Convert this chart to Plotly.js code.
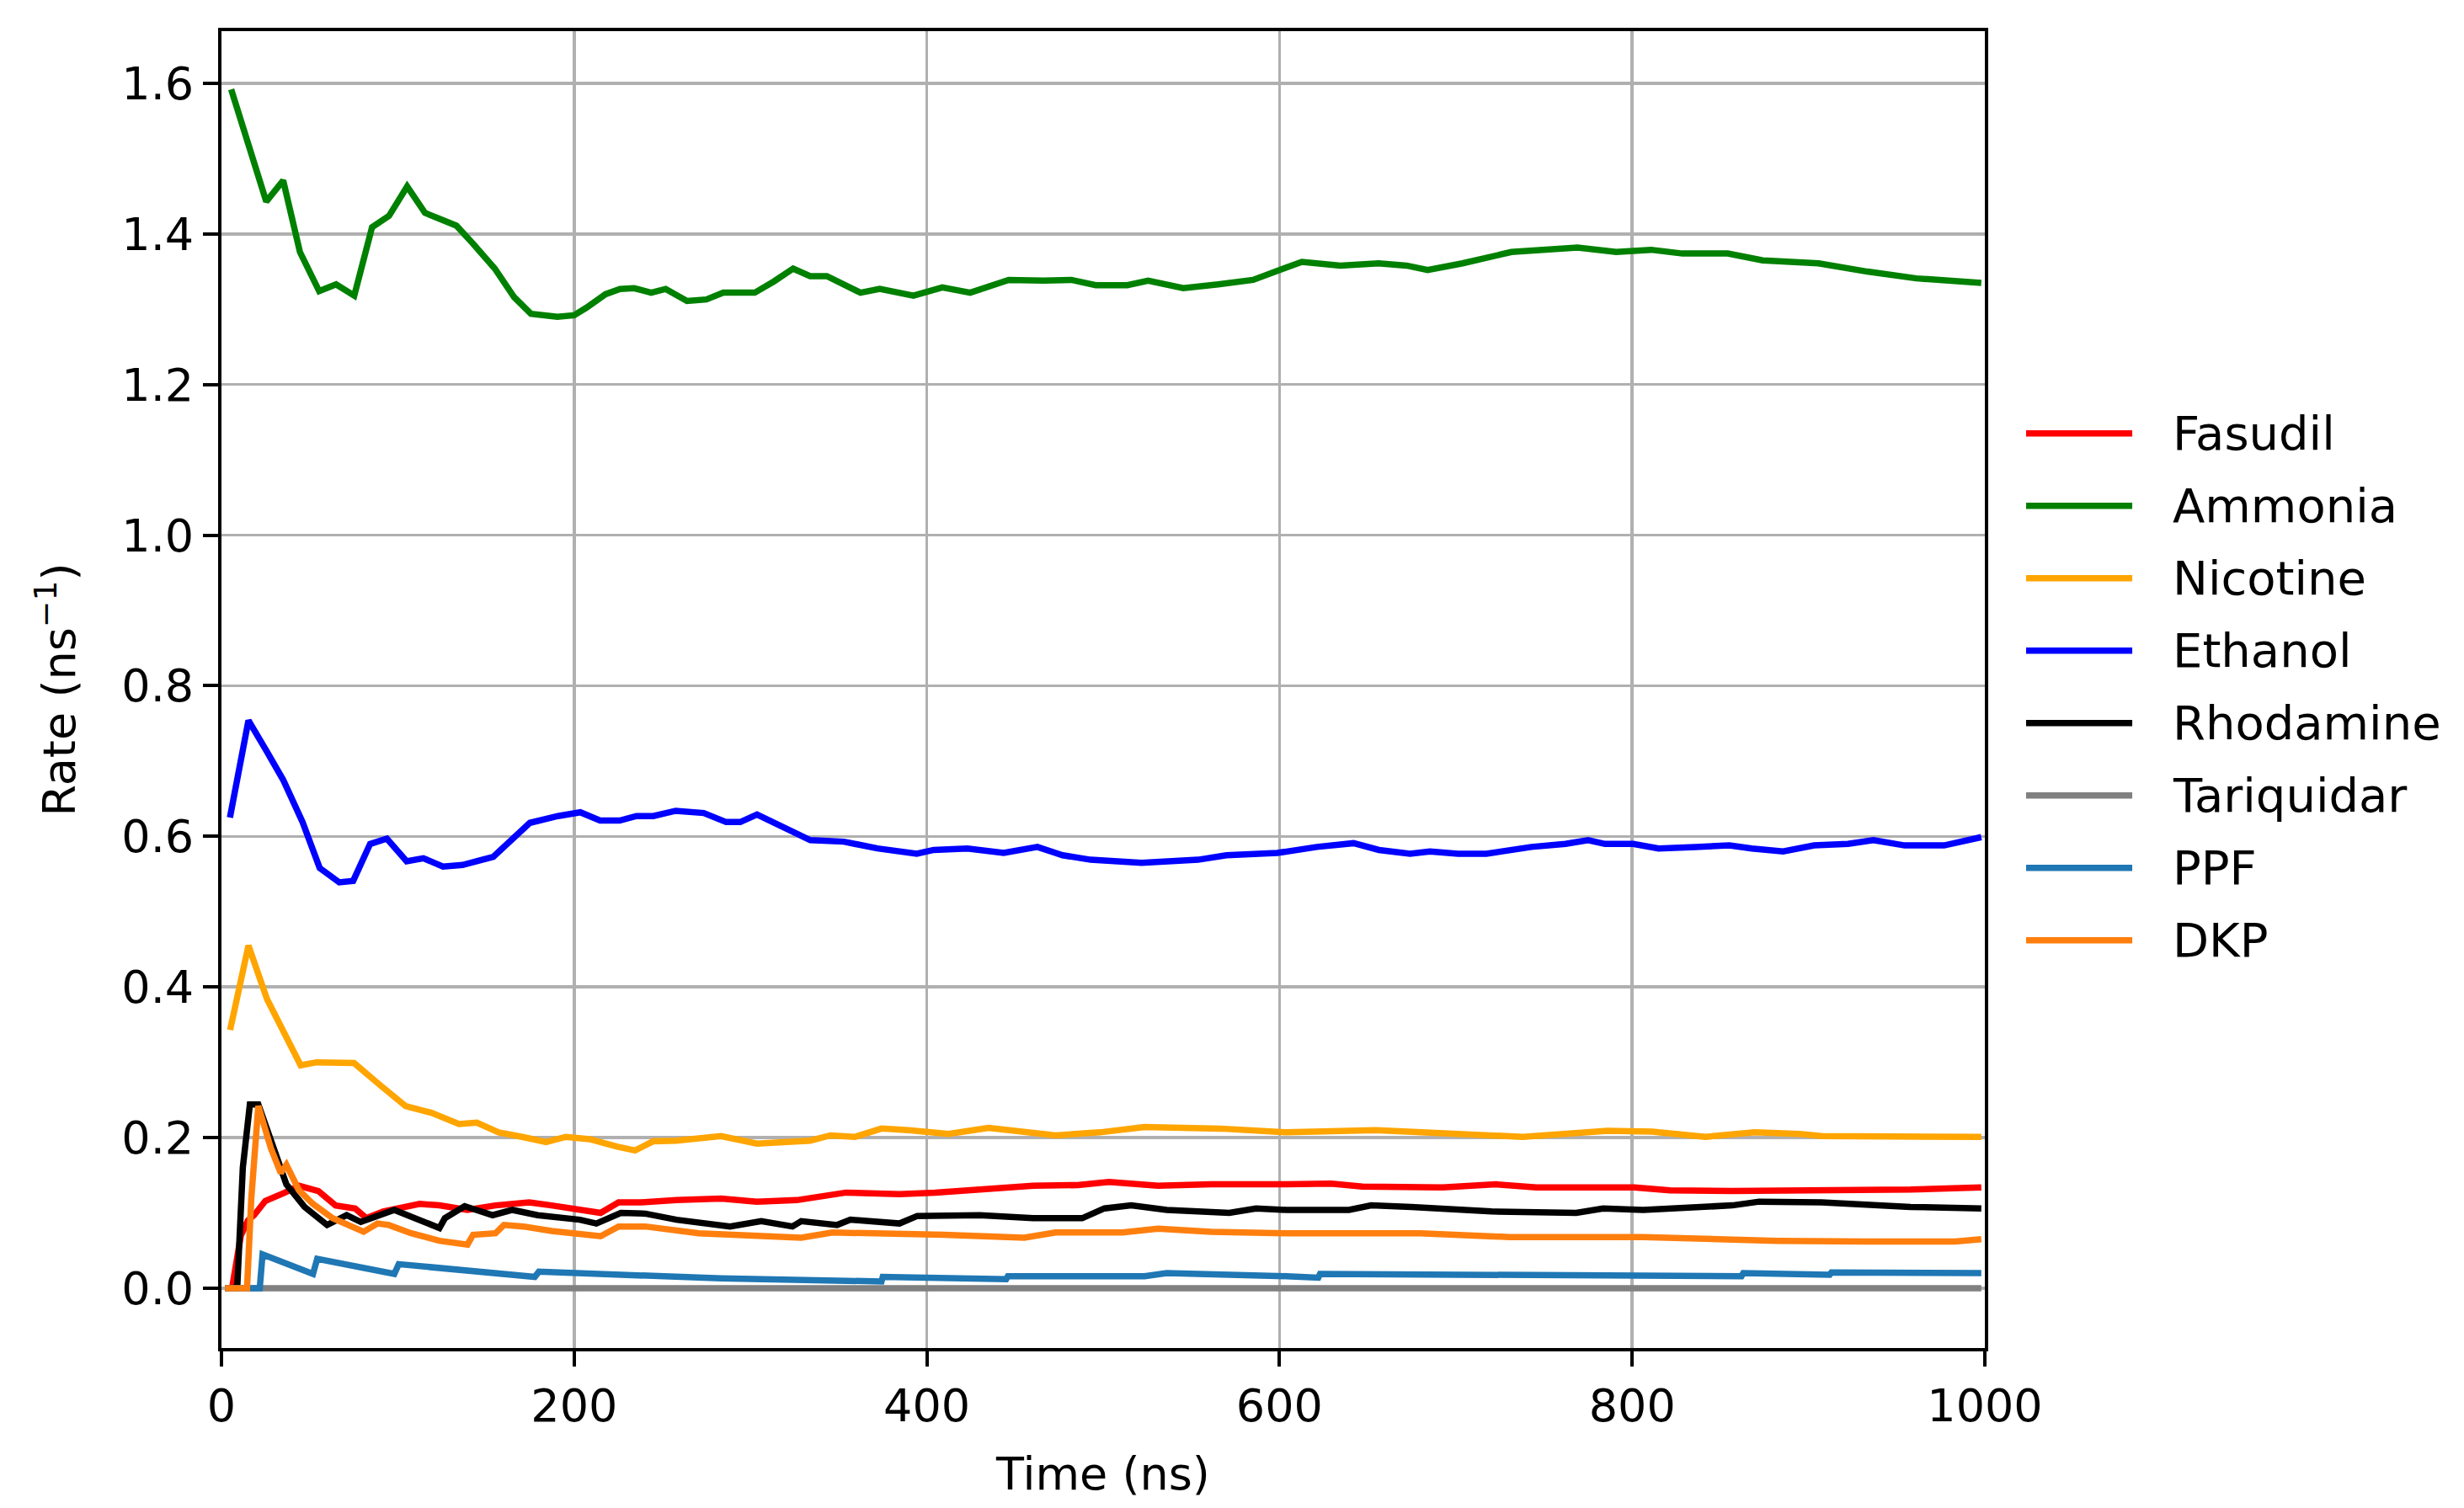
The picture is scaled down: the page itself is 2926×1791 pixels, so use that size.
<!DOCTYPE html>
<html>
<head>
<meta charset="utf-8">
<script src="https://cdn.plot.ly/plotly-3.0.1.min.js"></script>
<style>html,body{margin:0;padding:0;background:#fff;}#chart{width:2926px;height:1791px;}</style>
</head>
<body>
<div id="chart"></div>
<script>
// ---- data ----
const seriesNames = ["Fasudil","Ammonia","Nicotine","Ethanol","Rhodamine","Tariquidar","PPF","DKP"];
const seriesColors = ["#ff0000","#008000","#ffa500","#0000ff","#000000","#808080","#1f77b4","#ff7f0e"];

const tFasudil = [2,6,11,15,18.5,24.9,36,44,55,64.7,75.8,82.2,91.7,112.4,123.6,139.5,155.4,174.5,187.2,207.5,215,225.2,237.8,258,283.3,303.6,326.3,354.1,384.5,404.7,435,460.3,485.6,503.3,531.1,561.4,604,629.3,647,692.5,722.8,745.6,801.2,821.4,856.8,907.4,957.9,998];
const vFasudil = [0,0,0.07,0.09,0.097,0.116,0.127,0.136,0.129,0.110,0.106,0.093,0.102,0.112,0.110,0.104,0.110,0.114,0.110,0.102,0.100,0.114,0.114,0.117,0.119,0.115,0.117,0.127,0.125,0.127,0.132,0.136,0.137,0.141,0.136,0.138,0.138,0.139,0.135,0.134,0.138,0.134,0.134,0.130,0.129,0.130,0.131,0.134];

const tAmmonia = [5.5,25.4,35,44.5,55.4,65,75.3,85.4,95,105.3,115.4,133.2,142.7,155,166,175.5,190.5,200,206.9,217.8,226,234,243.7,251.9,264,275,284.6,302.4,313.3,324.2,333.8,343.3,362.4,373.3,392.4,408.8,424.6,446.4,466.2,482,495.8,513.7,525.5,545.4,565.2,585,612.7,634.5,656.2,672,684,703.8,731.5,755.2,769,790.9,810.7,828.5,854.2,874,905.7,933.4,961.2,998];
const vAmmonia = [1.592,1.443,1.471,1.376,1.324,1.333,1.318,1.409,1.424,1.463,1.428,1.411,1.387,1.354,1.316,1.294,1.290,1.292,1.302,1.320,1.327,1.328,1.322,1.327,1.311,1.313,1.322,1.322,1.337,1.354,1.344,1.344,1.322,1.327,1.318,1.329,1.322,1.339,1.338,1.339,1.332,1.332,1.338,1.328,1.333,1.339,1.363,1.358,1.361,1.358,1.352,1.361,1.376,1.381,1.382,1.376,1.379,1.374,1.374,1.365,1.361,1.350,1.341,1.335];

const tNicotine = [4.9,15.3,25.8,34.8,44.9,53.9,75.2,89.8,104.4,119,134.7,144.8,157.2,170.6,184.1,195.3,208.8,224.5,234.6,244.7,258,283.3,303.6,333.9,345.3,359.2,374.3,389.5,412.3,435,450.2,473,498.2,523.5,566.5,604,654.6,705,738,786,811.3,841.6,869.4,894.7,907.4,998];
const vNicotine = [0.343,0.455,0.384,0.343,0.296,0.300,0.299,0.270,0.242,0.233,0.218,0.220,0.207,0.201,0.194,0.201,0.198,0.188,0.183,0.195,0.196,0.202,0.192,0.196,0.203,0.201,0.212,0.210,0.205,0.213,0.209,0.203,0.207,0.214,0.212,0.207,0.210,0.205,0.201,0.209,0.208,0.201,0.207,0.205,0.202,0.201];

const tEthanol = [4.8,15.3,25.4,35,46,55.7,66.8,74.7,84.3,93.8,105,114.5,125.6,136.7,154.2,165.4,174.9,190.8,203.5,214.7,225.8,235.3,244.9,257.6,273.5,286.2,294.2,303.7,318,333.9,353,372,394.3,403.9,423,443.6,462.7,477,492.9,521.8,553.8,569.9,598.7,621.2,642,656.4,674,685.3,701.3,717.3,742.9,762.2,775,784.6,800.6,815,835.9,855.1,867.9,885.6,903.2,922.4,936.8,954.5,976.9,998];
const vEthanol = [0.625,0.754,0.714,0.675,0.619,0.558,0.539,0.541,0.590,0.597,0.567,0.571,0.560,0.562,0.573,0.597,0.618,0.627,0.632,0.621,0.621,0.627,0.627,0.634,0.631,0.619,0.619,0.629,0.612,0.595,0.593,0.584,0.577,0.582,0.584,0.578,0.586,0.575,0.569,0.565,0.569,0.575,0.578,0.586,0.591,0.582,0.577,0.580,0.577,0.577,0.586,0.590,0.595,0.590,0.590,0.584,0.586,0.588,0.584,0.580,0.588,0.590,0.595,0.588,0.588,0.599];

const tRhodamine = [2,7,9,12.1,16.1,20.9,36.8,47.1,59.9,71,79,98,123.6,126.7,137.9,153.8,165,179.3,203.2,212.6,226.5,240.4,258,288.4,306.1,323.8,328.8,349.1,356.7,384.5,394.6,430,460.3,488.1,500.7,515.9,536.1,571.5,586.7,604,639.4,652,674.8,720.3,768.3,783.5,806.2,856.8,872,907.4,957.9,998];
const vRhodamine = [0,0,0.004,0.160,0.244,0.244,0.138,0.108,0.084,0.097,0.088,0.104,0.080,0.093,0.109,0.097,0.104,0.097,0.091,0.086,0.100,0.099,0.091,0.082,0.089,0.082,0.089,0.084,0.091,0.086,0.096,0.097,0.093,0.093,0.106,0.110,0.104,0.100,0.106,0.104,0.104,0.110,0.108,0.102,0.100,0.106,0.104,0.110,0.115,0.114,0.108,0.106];

const tTariquidar = [2,250,500,750,998];
const vTariquidar = [0,0,0,0,0];

const tPPF = [2,21.7,23.3,51.9,54.3,98,100.5,177.7,180,207.5,232.8,283.3,374.3,375,445,446,523.5,536,604,622,623,862,863,912,913,998];
const vPPF = [0,0,0.045,0.019,0.039,0.019,0.032,0.015,0.022,0.020,0.017,0.013,0.009,0.015,0.012,0.016,0.016,0.020,0.016,0.014,0.019,0.016,0.020,0.018,0.021,0.020];

const tDKP = [2,14.5,16.9,20.9,28,33.6,36.8,44,51.9,63,80.6,88.5,94.9,107.6,123.6,139.5,142.7,155.4,160.2,171.3,187.2,207.5,215,225.2,240.4,270.7,290.9,328.8,346.5,384.5,409.7,455.2,473,510.9,531.1,561.4,604,679.8,730.4,806.2,882,932.6,983.2,998];
const vDKP = [0,0,0.119,0.242,0.186,0.153,0.164,0.130,0.112,0.093,0.075,0.086,0.084,0.073,0.063,0.058,0.071,0.073,0.084,0.082,0.076,0.071,0.069,0.082,0.082,0.073,0.071,0.067,0.074,0.073,0.071,0.067,0.074,0.074,0.079,0.075,0.073,0.073,0.068,0.068,0.063,0.062,0.062,0.065];

const xTickVals = [0,200,400,600,800,1000];
const yTickVals = [0.0,0.2,0.4,0.6,0.8,1.0,1.2,1.4,1.6];
const xTitle = "Time (ns)";
const yTitle = "Rate (ns<sup>−1</sup>)";

// ---- build traces ----
const xs = [tFasudil,tAmmonia,tNicotine,tEthanol,tRhodamine,tTariquidar,tPPF,tDKP];
const ys = [vFasudil,vAmmonia,vNicotine,vEthanol,vRhodamine,vTariquidar,vPPF,vDKP];
const FONT = "DejaVu Sans, Liberation Sans, sans-serif";
const LW = 7.5;

const traces = seriesNames.map((n,i)=>({
  type:"scatter", mode:"lines", name:n, x:xs[i], y:ys[i],
  line:{color:seriesColors[i], width:LW}, showlegend:false
}));

// custom legend (matplotlib-style long handles)
const shapes = [], annotations = [];
const legX0 = 1.0234, legX1 = 1.0836, legTextX = 1.1056, legY0 = 0.6946, legStep = 0.05499;
seriesNames.forEach((n,i)=>{
  const yy = legY0 - i*legStep;
  shapes.push({type:"line", xref:"paper", yref:"paper", x0:legX0, x1:legX1, y0:yy, y1:yy,
               line:{color:seriesColors[i], width:LW}});
  annotations.push({xref:"paper", yref:"paper", x:legTextX, y:yy, xanchor:"left", yanchor:"middle",
               text:n, showarrow:false, font:{family:FONT, size:56, color:"#000"}});
});

const layout = {
  width:2926, height:1791,
  margin:{l:263, r:569, t:37, b:190},
  paper_bgcolor:"#fff", plot_bgcolor:"#fff",
  font:{family:FONT, size:54, color:"#000"},
  showlegend:false,
  xaxis:{
    range:[0,1000], tickvals:xTickVals, ticktext:xTickVals.map(String),
    showgrid:true, gridcolor:"#b0b0b0", gridwidth:3.5,
    showline:true, linecolor:"#000", linewidth:4, mirror:true,
    ticks:"outside", ticklen:18, tickwidth:4, tickcolor:"#000",
    zeroline:false, tickfont:{family:FONT, size:54, color:"#000"},
    title:{text:xTitle, standoff:32, font:{family:FONT, size:54, color:"#000"}}
  },
  yaxis:{
    range:[-0.0794,1.6693], tickvals:yTickVals, ticktext:yTickVals.map(v=>v.toFixed(1)),
    showgrid:true, gridcolor:"#b0b0b0", gridwidth:3.5,
    showline:true, linecolor:"#000", linewidth:4, mirror:true,
    ticks:"outside", ticklen:18, tickwidth:4, tickcolor:"#000",
    zeroline:false, tickfont:{family:FONT, size:54, color:"#000"},
    title:{text:yTitle, standoff:38, font:{family:FONT, size:54, color:"#000"}}
  },
  shapes:shapes, annotations:annotations
};

Plotly.newPlot("chart", traces, layout, {staticPlot:true, displayModeBar:false});
</script>
</body>
</html>
